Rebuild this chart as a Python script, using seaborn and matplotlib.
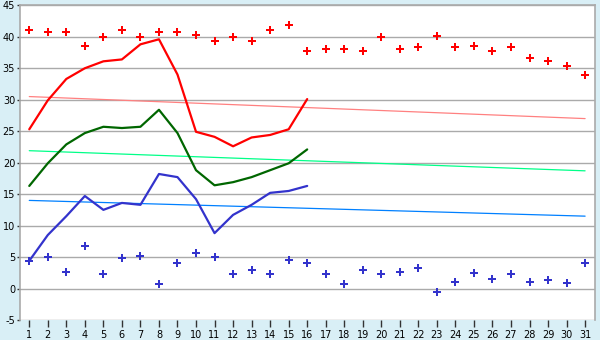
import matplotlib
matplotlib.use("Agg")
import matplotlib.pyplot as plt
import seaborn as sns
import pandas as pd

days = list(range(1, 32))
max_points = [41.1, 40.7, 40.7, 38.6, 40.0, 41.1, 39.9, 40.8, 40.7, 40.3, 39.4, 39.9, 39.4, 41.1, 41.9,
              37.8, 38.0, 38.0, 37.8, 40.0, 38.0, 38.4, 40.2, 38.3, 38.6, 37.8, 38.3, 36.7, 36.1, 35.4, 34.0]
min_points = [4.4, 5.0, 2.6, 6.7, 2.3, 4.8, 5.1, 0.7, 4.0, 5.6, 5.0, 2.3, 2.9, 2.3, 4.5,
              4.0, 2.3, 0.7, 2.9, 2.3, 2.6, 3.2, -0.6, 1.0, 2.4, 1.5, 2.3, 1.0, 1.3, 0.8, 4.0]
line_days = list(range(1, 17))
max_line = [25.3, 29.9, 33.3, 35.0, 36.1, 36.4, 38.8, 39.6, 34.0, 24.9, 24.1, 22.6, 24.0, 24.4, 25.3, 30.1]
mean_line = [16.3, 19.9, 22.9, 24.7, 25.7, 25.5, 25.7, 28.4, 24.7, 18.8, 16.4, 16.9, 17.7, 18.8, 19.9, 22.1]
min_line = [4.4, 8.5, 11.5, 14.7, 12.5, 13.6, 13.3, 18.2, 17.7, 14.2, 8.8, 11.7, 13.3, 15.2, 15.5, 16.3]
trend_days = [1, 31]
max_trend = [30.5, 27.0]
mean_trend = [21.9, 18.7]
min_trend = [14.0, 11.5]
y_ticks = list(range(-5, 46, 5))

sns.set_style("white")
plt.rcParams['font.family'] = ['DejaVu Sans']

bg = "#d9eff6"
fig = plt.figure(figsize=(6, 3.4), dpi=100, facecolor=bg)
ax = fig.add_axes([20 / 600, 20 / 340, 575.3 / 600, 314.7 / 340])
ax.set_facecolor("white")

for yt in y_ticks:
    ax.axhline(yt, color="#aaaaaa", lw=1.0, zorder=0)

sns.lineplot(x=trend_days, y=max_trend, ax=ax, color="#ff8080", lw=0.9, zorder=2)
sns.lineplot(x=trend_days, y=mean_trend, ax=ax, color="#00ff88", lw=0.9, zorder=2)
sns.lineplot(x=trend_days, y=min_trend, ax=ax, color="#0080ff", lw=0.9, zorder=2)

sns.lineplot(x=line_days, y=max_line, ax=ax, color="#ff0000", lw=1.6, zorder=3)
sns.lineplot(x=line_days, y=mean_line, ax=ax, color="#006600", lw=1.6, zorder=3)
sns.lineplot(x=line_days, y=min_line, ax=ax, color="#3333cc", lw=1.6, zorder=3)

sns.scatterplot(x=days, y=max_points, ax=ax, color="#ff0000", marker="P", s=30, linewidth=0, zorder=4)
sns.scatterplot(x=days, y=min_points, ax=ax, color="#3333cc", marker="P", s=30, linewidth=0, zorder=4)

ax.set_xlim(0.5, 31.55)
ax.set_ylim(-5, 45)
ax.set_xticks(days)
ax.set_xticklabels([str(d) for d in days])
ax.set_yticks(y_ticks)
ax.set_yticklabels([str(t) for t in y_ticks])
ax.tick_params(axis="x", length=5, width=1, color="#333333", labelsize=7, pad=2,
               labelcolor="#000000", direction="out", bottom=True)
ax.tick_params(axis="y", length=2.5, width=1, color="#333333", labelsize=7, pad=1,
               labelcolor="#000000", direction="out", left=True)
for s in ax.spines.values():
    s.set_color("#aaaaaa")
    s.set_linewidth(1.2)
ax.spines["bottom"].set_visible(False)

fig.savefig("out.png", dpi=100, facecolor=bg)
